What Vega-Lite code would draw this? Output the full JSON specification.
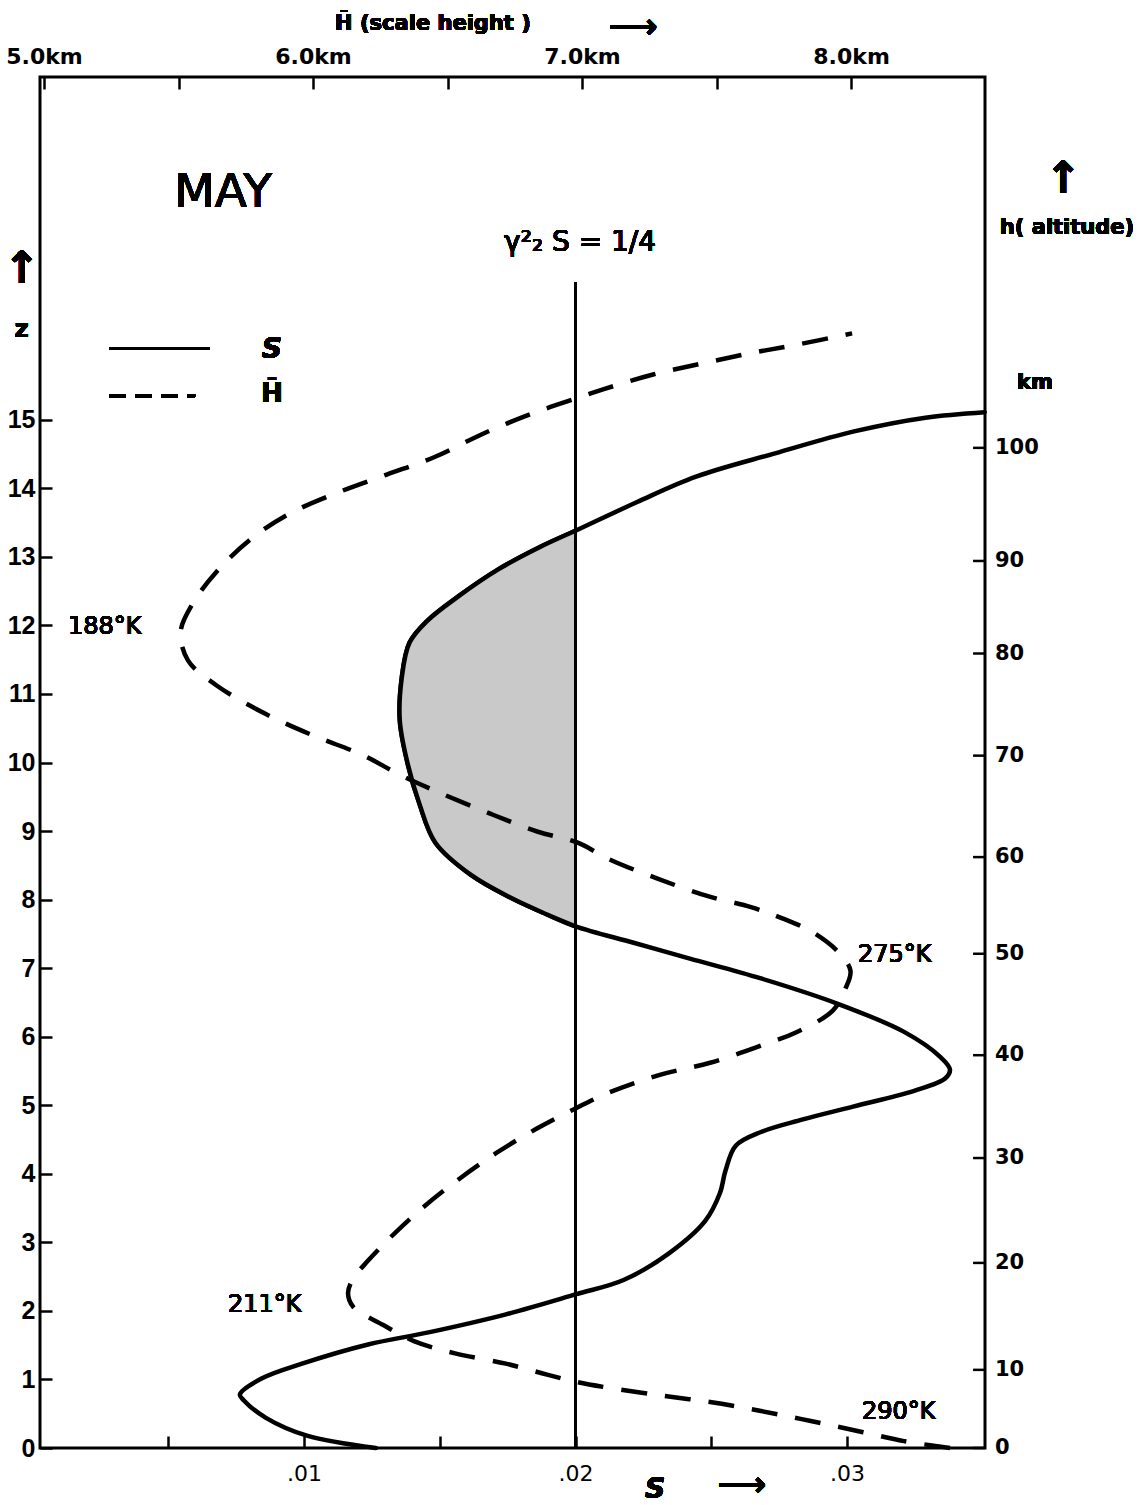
{
  "$schema": "https://vega.github.io/schema/vega-lite/v6.json",
  "width": 945,
  "height": 1371,
  "autosize": {"type": "none"},
  "padding": {"left": 40, "top": 77, "right": 163, "bottom": 57},
  "background": "white",
  "config": {
    "view": {"stroke": "black", "strokeWidth": 3},
    "font": "DejaVu Sans",
    "axis": {
      "domain": false,
      "grid": false,
      "ticks": true,
      "tickColor": "black",
      "tickWidth": 2.5,
      "tickSize": 12,
      "offset": -12,
      "labelColor": "black",
      "labelFont": "DejaVu Sans",
      "labelFontWeight": "bold"
    },
    "text": {"color": "black", "font": "DejaVu Sans"}
  },
  "datasets": {
    "S_profile": [
      {"z": 0, "S": 0.01265}, {"z": 0.18, "S": 0.01011}, {"z": 0.44, "S": 0.0086},
      {"z": 0.7, "S": 0.00777}, {"z": 0.78, "S": 0.00764}, {"z": 1.01, "S": 0.00842},
      {"z": 1.23, "S": 0.00993}, {"z": 1.51, "S": 0.01236}, {"z": 1.69, "S": 0.01463},
      {"z": 1.95, "S": 0.01744}, {"z": 2.24, "S": 0.02}, {"z": 2.45, "S": 0.02177},
      {"z": 2.84, "S": 0.02344}, {"z": 3.31, "S": 0.02477}, {"z": 3.72, "S": 0.02532},
      {"z": 4.04, "S": 0.02552}, {"z": 4.41, "S": 0.0259}, {"z": 4.61, "S": 0.02683},
      {"z": 4.79, "S": 0.02834}, {"z": 4.98, "S": 0.03022}, {"z": 5.21, "S": 0.03247},
      {"z": 5.39, "S": 0.03361}, {"z": 5.52, "S": 0.03379}, {"z": 5.71, "S": 0.03342},
      {"z": 6.07, "S": 0.0321}, {"z": 6.48, "S": 0.02966}, {"z": 6.85, "S": 0.02683},
      {"z": 7.14, "S": 0.02421}, {"z": 7.37, "S": 0.02214}, {"z": 7.61, "S": 0.02},
      {"z": 7.79, "S": 0.01891}, {"z": 8.03, "S": 0.0176}, {"z": 8.36, "S": 0.01615},
      {"z": 8.83, "S": 0.01484}, {"z": 9.4, "S": 0.01425}, {"z": 9.98, "S": 0.01382},
      {"z": 10.61, "S": 0.01353}, {"z": 11.23, "S": 0.0136}, {"z": 11.75, "S": 0.01389},
      {"z": 12.07, "S": 0.01455}, {"z": 12.43, "S": 0.01571}, {"z": 12.82, "S": 0.01717},
      {"z": 13.13, "S": 0.01862}, {"z": 13.38, "S": 0.02}, {"z": 13.8, "S": 0.02227},
      {"z": 14.17, "S": 0.02444}, {"z": 14.51, "S": 0.02735}, {"z": 14.83, "S": 0.03026},
      {"z": 15.03, "S": 0.03289}, {"z": 15.11, "S": 0.03507}
    ],
    "H_profile": [
      {"z": 0, "H": 8.368}, {"z": 0.1, "H": 8.197}, {"z": 0.23, "H": 8.045},
      {"z": 0.39, "H": 7.855}, {"z": 0.54, "H": 7.665}, {"z": 0.67, "H": 7.476},
      {"z": 0.77, "H": 7.286}, {"z": 0.88, "H": 7.097}, {"z": 0.96, "H": 6.984},
      {"z": 1.07, "H": 6.87}, {"z": 1.23, "H": 6.717}, {"z": 1.38, "H": 6.528},
      {"z": 1.56, "H": 6.375}, {"z": 1.79, "H": 6.263}, {"z": 2.06, "H": 6.149},
      {"z": 2.26, "H": 6.13}, {"z": 2.47, "H": 6.149}, {"z": 2.73, "H": 6.204},
      {"z": 3.05, "H": 6.282}, {"z": 3.46, "H": 6.394}, {"z": 3.88, "H": 6.528},
      {"z": 4.3, "H": 6.68}, {"z": 4.66, "H": 6.832}, {"z": 4.95, "H": 6.974},
      {"z": 5.18, "H": 7.097}, {"z": 5.44, "H": 7.286}, {"z": 5.62, "H": 7.476},
      {"z": 5.87, "H": 7.665}, {"z": 6.07, "H": 7.799}, {"z": 6.38, "H": 7.932},
      {"z": 6.7, "H": 7.979}, {"z": 6.96, "H": 7.998}, {"z": 7.21, "H": 7.959},
      {"z": 7.53, "H": 7.855}, {"z": 7.73, "H": 7.742}, {"z": 7.89, "H": 7.628},
      {"z": 8.05, "H": 7.468}, {"z": 8.31, "H": 7.278}, {"z": 8.59, "H": 7.1},
      {"z": 8.83, "H": 6.984}, {"z": 8.99, "H": 6.836}, {"z": 9.25, "H": 6.661},
      {"z": 9.56, "H": 6.47}, {"z": 9.82, "H": 6.323}, {"z": 10.11, "H": 6.184},
      {"z": 10.39, "H": 6.003}, {"z": 10.71, "H": 5.823}, {"z": 11.12, "H": 5.643},
      {"z": 11.49, "H": 5.535}, {"z": 11.91, "H": 5.508}, {"z": 12.32, "H": 5.553},
      {"z": 12.79, "H": 5.643}, {"z": 13.26, "H": 5.769}, {"z": 13.63, "H": 5.913},
      {"z": 13.94, "H": 6.093}, {"z": 14.2, "H": 6.274}, {"z": 14.46, "H": 6.454},
      {"z": 14.8, "H": 6.634}, {"z": 15.09, "H": 6.814}, {"z": 15.32, "H": 6.985},
      {"z": 15.45, "H": 7.084}, {"z": 15.66, "H": 7.264}, {"z": 15.82, "H": 7.445},
      {"z": 15.97, "H": 7.625}, {"z": 16.1, "H": 7.805}, {"z": 16.26, "H": 8.004}
    ],
    "altitude_km": [
      {"h": 0, "z": 0}, {"h": 10, "z": 1.14}, {"h": 20, "z": 2.7}, {"h": 30, "z": 4.23},
      {"h": 40, "z": 5.73}, {"h": 50, "z": 7.21}, {"h": 60, "z": 8.62}, {"h": 70, "z": 10.1},
      {"h": 80, "z": 11.59}, {"h": 90, "z": 12.94}, {"h": 100, "z": 14.59}
    ]
  },
  "resolve": {"scale": {"x": "independent"}, "axis": {"x": "independent"}},
  "layer": [
    {
      "layer": [
        {
          "data": {"name": "S_profile"},
          "mark": {"type": "line", "color": "black", "strokeWidth": 4.5, "strokeCap": "round", "strokeJoin": "round", "interpolate": "catmull-rom"},
          "encoding": {
            "x": {
              "field": "S", "type": "quantitative",
              "scale": {"domain": [0.00028, 0.03508], "nice": false, "zero": false},
              "axis": {
                "orient": "bottom", "title": null,
                "values": [0.005, 0.01, 0.015, 0.02, 0.025, 0.03],
                "labelExpr": "round(datum.value*1000) % 10 == 0 ? replace(format(datum.value, '.2f'), '0.', '.') : ''",
                "labelFontSize": 22, "labelFontWeight": "normal", "labelPadding": 15
              }
            },
            "y": {
              "field": "z", "type": "quantitative",
              "scale": {"domain": [0, 20], "nice": false, "zero": false},
              "axis": {
                "orient": "left", "title": null, "format": "d",
                "values": [0, 1, 2, 3, 4, 5, 6, 7, 8, 9, 10, 11, 12, 13, 14, 15],
                "labelFont": "Liberation Sans", "labelFontSize": 25, "labelPadding": 5
              }
            },
            "order": {"field": "z", "type": "quantitative"}
          }
        },
        {
          "data": {"name": "S_profile"},
          "transform": [{"filter": "datum.z >= 7.6 && datum.z <= 13.4"}],
          "mark": {"type": "area", "orient": "horizontal", "fill": "#c9c9c9", "interpolate": "catmull-rom"},
          "encoding": {
            "y": {"field": "z", "type": "quantitative"},
            "x": {"field": "S", "type": "quantitative"},
            "x2": {"datum": 0.02}
          }
        },
        {
          "data": {"name": "S_profile"},
          "transform": [{"filter": "datum.z >= 7.6 && datum.z <= 13.4"}],
          "mark": {"type": "line", "color": "black", "strokeWidth": 4.5, "strokeCap": "round", "strokeJoin": "round", "interpolate": "catmull-rom"},
          "encoding": {
            "x": {"field": "S", "type": "quantitative"},
            "y": {"field": "z", "type": "quantitative"},
            "order": {"field": "z", "type": "quantitative"}
          }
        },
        {
          "data": {"name": "S_profile"},
          "mark": {"type": "rule", "color": "black", "strokeWidth": 2},
          "encoding": {
            "x": {"datum": 0.02},
            "y": {"datum": 0},
            "y2": {"datum": 17}
          }
        },
        {
          "data": {"name": "altitude_km"},
          "mark": {"type": "rule", "color": "black", "strokeWidth": 2.5},
          "encoding": {
            "x": {"datum": 0.03464},
            "x2": {"datum": 0.03508},
            "y": {"field": "z", "type": "quantitative"}
          }
        },
        {
          "data": {"name": "altitude_km"},
          "mark": {"type": "text", "align": "left", "baseline": "middle", "dx": 10, "fontSize": 21, "fontWeight": "bold"},
          "encoding": {
            "x": {"datum": 0.03508},
            "y": {"field": "z", "type": "quantitative"},
            "text": {"field": "h", "type": "quantitative"}
          }
        },
        {
          "data": {"name": "S_profile"},
          "mark": {"type": "rule", "color": "black", "strokeWidth": 3},
          "encoding": {
            "x": {"datum": 0.00285},
            "x2": {"datum": 0.00653},
            "y": {"datum": 16.04}
          }
        },
        {
          "data": {"name": "S_profile"},
          "mark": {"type": "rule", "color": "black", "strokeWidth": 3, "strokeDash": [16, 10]},
          "encoding": {
            "x": {"datum": 0.00285},
            "x2": {"datum": 0.00599},
            "y": {"datum": 15.35}
          }
        },
        {
          "data": {"name": "S_profile"},
          "mark": {"type": "text", "text": "S", "fontSize": 28, "fontStyle": "italic", "fontWeight": "bold", "align": "center", "baseline": "middle"},
          "encoding": {"x": {"datum": 0.00882}, "y": {"datum": 16.02}}
        },
        {
          "data": {"name": "S_profile"},
          "mark": {"type": "text", "text": "H̄", "fontSize": 26, "fontWeight": "bold", "align": "center", "baseline": "middle"},
          "encoding": {"x": {"datum": 0.00882}, "y": {"datum": 15.37}}
        },
        {
          "data": {"name": "S_profile"},
          "mark": {"type": "text", "text": "MAY", "fontSize": 47, "align": "center", "baseline": "middle"},
          "encoding": {"x": {"datum": 0.00702}, "y": {"datum": 18.31}}
        },
        {
          "data": {"name": "S_profile"},
          "mark": {"type": "text", "text": "γ²₂ S = 1/4", "fontSize": 28, "align": "center", "baseline": "middle"},
          "encoding": {"x": {"datum": 0.02017}, "y": {"datum": 17.58}}
        },
        {
          "data": {"name": "S_profile"},
          "mark": {"type": "text", "text": "188°K", "fontSize": 24, "align": "left", "baseline": "middle"},
          "encoding": {"x": {"datum": 0.00131}, "y": {"datum": 11.97}}
        },
        {
          "data": {"name": "S_profile"},
          "mark": {"type": "text", "text": "211°K", "fontSize": 24, "align": "left", "baseline": "middle"},
          "encoding": {"x": {"datum": 0.0072}, "y": {"datum": 2.09}}
        },
        {
          "data": {"name": "S_profile"},
          "mark": {"type": "text", "text": "275°K", "fontSize": 24, "align": "left", "baseline": "middle"},
          "encoding": {"x": {"datum": 0.0304}, "y": {"datum": 7.19}}
        },
        {
          "data": {"name": "S_profile"},
          "mark": {"type": "text", "text": "290°K", "fontSize": 24, "align": "left", "baseline": "middle"},
          "encoding": {"x": {"datum": 0.03055}, "y": {"datum": 0.53}}
        },
        {
          "data": {"name": "S_profile"},
          "mark": {"type": "text", "text": "↑", "fontSize": 44, "fontWeight": "bold", "align": "center", "baseline": "middle"},
          "encoding": {"x": {"datum": -0.00039}, "y": {"datum": 17.19}}
        },
        {
          "data": {"name": "S_profile"},
          "mark": {"type": "text", "text": "z", "fontSize": 24, "fontWeight": "bold", "align": "center", "baseline": "middle"},
          "encoding": {"x": {"datum": -0.00039}, "y": {"datum": 16.31}}
        },
        {
          "data": {"name": "S_profile"},
          "mark": {"type": "text", "text": "↑", "fontSize": 44, "fontWeight": "bold", "align": "center", "baseline": "middle"},
          "encoding": {"x": {"datum": 0.03796}, "y": {"datum": 18.5}}
        },
        {
          "data": {"name": "S_profile"},
          "mark": {"type": "text", "text": "h( altitude)", "fontSize": 21, "fontWeight": "bold", "align": "center", "baseline": "middle"},
          "encoding": {"x": {"datum": 0.0381}, "y": {"datum": 17.8}}
        },
        {
          "data": {"name": "S_profile"},
          "mark": {"type": "text", "text": "km", "fontSize": 21, "fontWeight": "bold", "align": "center", "baseline": "middle"},
          "encoding": {"x": {"datum": 0.03692}, "y": {"datum": 15.54}}
        },
        {
          "data": {"name": "S_profile"},
          "mark": {"type": "text", "text": "S", "fontSize": 28, "fontStyle": "italic", "fontWeight": "bold", "align": "center", "baseline": "middle"},
          "encoding": {"x": {"datum": 0.02293}, "y": {"datum": -0.61}}
        },
        {
          "data": {"name": "S_profile"},
          "mark": {"type": "text", "text": "⟶", "fontSize": 34, "fontWeight": "bold", "align": "center", "baseline": "middle"},
          "encoding": {"x": {"datum": 0.02613}, "y": {"datum": -0.56}}
        }
      ]
    },
    {
      "layer": [
        {
          "data": {"name": "H_profile"},
          "mark": {"type": "line", "color": "black", "strokeWidth": 4.5, "strokeDash": [26, 18], "interpolate": "catmull-rom"},
          "encoding": {
            "x": {
              "field": "H", "type": "quantitative",
              "scale": {"domain": [4.985, 8.498], "nice": false, "zero": false},
              "axis": {
                "orient": "top", "title": null,
                "values": [5, 5.5, 6, 6.5, 7, 7.5, 8],
                "labelExpr": "datum.value % 1 == 0 ? format(datum.value, '.1f') + 'km' : ''",
                "labelFontSize": 22, "labelPadding": 9
              }
            },
            "y": {"field": "z", "type": "quantitative", "scale": {"domain": [0, 20], "nice": false, "zero": false}},
            "order": {"field": "z", "type": "quantitative"}
          }
        },
        {
          "data": {"name": "H_profile"},
          "mark": {"type": "text", "text": "H̄ (scale height )", "fontSize": 21, "fontWeight": "bold", "align": "left", "baseline": "middle"},
          "encoding": {"x": {"datum": 6.082}, "y": {"datum": 20.78}}
        },
        {
          "data": {"name": "H_profile"},
          "mark": {"type": "text", "text": "⟶", "fontSize": 34, "fontWeight": "bold", "align": "center", "baseline": "middle"},
          "encoding": {"x": {"datum": 7.19}, "y": {"datum": 20.72}}
        }
      ]
    }
  ]
}
